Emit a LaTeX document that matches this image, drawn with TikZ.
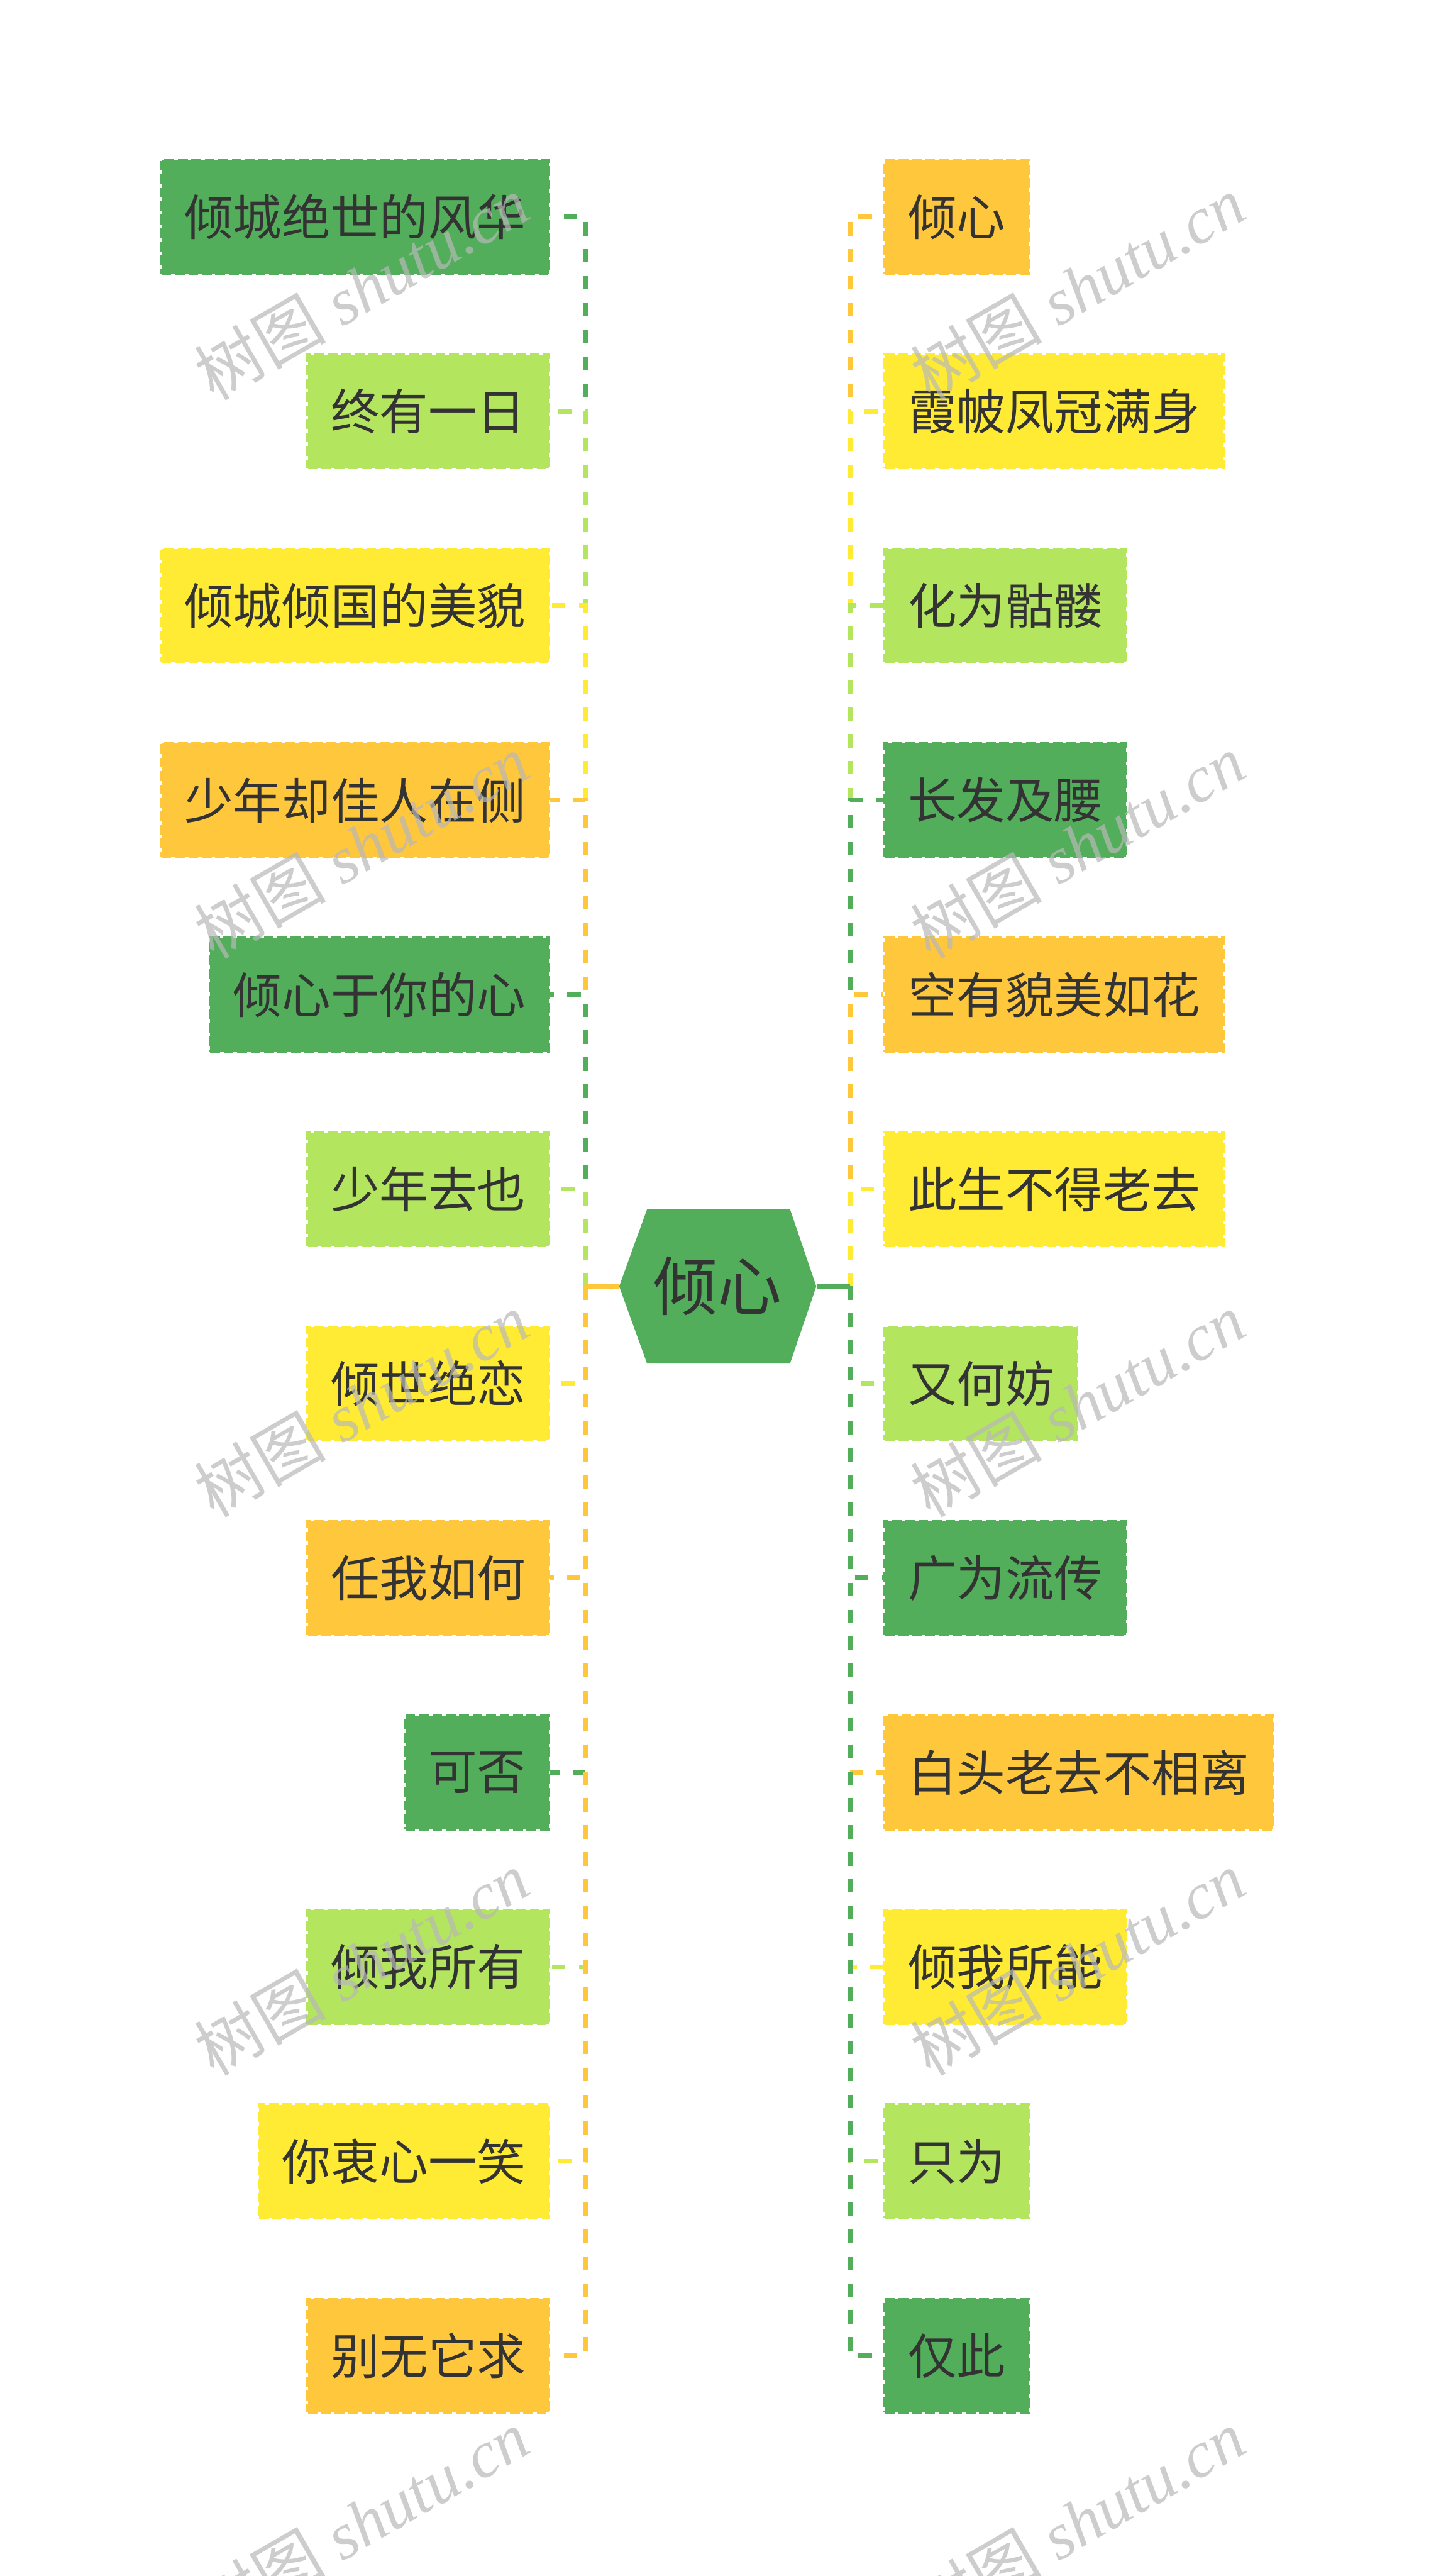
\documentclass[tikz,border=0pt]{standalone}
\usepackage{fontspec}
\newfontfamily\cjk{Noto Sans CJK SC}
\newfontfamily\wmserif{Liberation Serif}
\definecolor{cgreen}{HTML}{52AE5A}
\definecolor{clgreen}{HTML}{B4E55F}
\definecolor{cyellow}{HTML}{FFEB33}
\definecolor{corange}{HTML}{FFC83C}
\definecolor{ctext}{HTML}{333333}
\definecolor{cwm}{HTML}{B8B8B8}
\newcommand{\wmtext}{{\fontsize{40}{42}\selectfont{\cjk 树图}\hspace{10pt}{\wmserif\itshape shutu.cn}}}
\begin{document}
\begin{tikzpicture}[x=1pt,y=-1pt,
  topic/.style={fill=#1, draw=#1, line width=1.6pt, dash pattern=on 6pt off 2.2pt,
    minimum height=69pt, inner xsep=14pt, inner ysep=0pt,
    font=\cjk\fontsize{29.7}{30}\selectfont, text=ctext},
  ltopic/.style={topic=#1, anchor=east},
  rtopic/.style={topic=#1, anchor=west},
  hublabel/.style={minimum width=120pt, minimum height=94pt, inner sep=0pt,
    font=\cjk\fontsize{39}{40}\selectfont, text=ctext},
  hub/.style={line width=2.8pt, draw=#1},
  branch/.style={line width=2.8pt, draw=#1, dash pattern=on 8.2pt off 8.2pt},
  wm/.style={rotate=30, text=cwm, opacity=0.7, inner sep=0pt}
]
\useasboundingbox (0,0) rectangle (874,1568);
\fill[white] (0,0) rectangle (874,1568);

% central topic
\fill[cgreen] (377,783) -- (394,736) -- (481,736) -- (497,783) -- (481,830) -- (394,830) -- cycle;
\node[hublabel] (c) at (437,783) {倾心};

\coordinate (lt) at (356.4,783);
\coordinate (rt) at (517.6,783);

% left topics
\node[ltopic=cgreen]  (l1)  at (335,132)    {倾城绝世的风华};
\node[ltopic=clgreen] (l2)  at (335,250.4)  {终有一日};
\node[ltopic=cyellow] (l3)  at (335,368.7)  {倾城倾国的美貌};
\node[ltopic=corange] (l4)  at (335,487.1)  {少年却佳人在侧};
\node[ltopic=cgreen]  (l5)  at (335,605.4)  {倾心于你的心};
\node[ltopic=clgreen] (l6)  at (335,723.8)  {少年去也};
\node[ltopic=cyellow] (l7)  at (335,842.2)  {倾世绝恋};
\node[ltopic=corange] (l8)  at (335,960.5)  {任我如何};
\node[ltopic=cgreen]  (l9)  at (335,1078.9) {可否};
\node[ltopic=clgreen] (l10) at (335,1197.2) {倾我所有};
\node[ltopic=cyellow] (l11) at (335,1315.6) {你衷心一笑};
\node[ltopic=corange] (l12) at (335,1434)   {别无它求};

% right topics
\node[rtopic=corange] (r1)  at (538,132)    {倾心};
\node[rtopic=cyellow] (r2)  at (538,250.4)  {霞帔凤冠满身};
\node[rtopic=clgreen] (r3)  at (538,368.7)  {化为骷髅};
\node[rtopic=cgreen]  (r4)  at (538,487.1)  {长发及腰};
\node[rtopic=corange] (r5)  at (538,605.4)  {空有貌美如花};
\node[rtopic=cyellow] (r6)  at (538,723.8)  {此生不得老去};
\node[rtopic=clgreen] (r7)  at (538,842.2)  {又何妨};
\node[rtopic=cgreen]  (r8)  at (538,960.5)  {广为流传};
\node[rtopic=corange] (r9)  at (538,1078.9) {白头老去不相离};
\node[rtopic=cyellow] (r10) at (538,1197.2) {倾我所能};
\node[rtopic=clgreen] (r11) at (538,1315.6) {只为};
\node[rtopic=cgreen]  (r12) at (538,1434)   {仅此};

% connectors
\foreach \i/\col in {1/cgreen,2/clgreen,3/cyellow,4/corange,5/cgreen,6/clgreen,
                     7/cyellow,8/corange,9/cgreen,10/clgreen,11/cyellow,12/corange}{
  \draw[hub=\col] (c.west) -- (lt);
  \draw[branch=\col] (lt) |- (l\i.east);
}
\foreach \i/\col in {1/corange,2/cyellow,3/clgreen,4/cgreen,5/corange,6/cyellow,
                     7/clgreen,8/cgreen,9/corange,10/cyellow,11/clgreen,12/cgreen}{
  \draw[hub=\col] (c.east) -- (rt);
  \draw[branch=\col] (rt) |- (r\i.west);
}

% watermarks
\foreach \y [count=\k] in {175,515,855,1195,1535}{
  \node[wm] (wl\k) at (220,\y) {\wmtext};
  \node[wm] (wr\k) at (656,\y) {\wmtext};
}
\end{tikzpicture}
\end{document}
